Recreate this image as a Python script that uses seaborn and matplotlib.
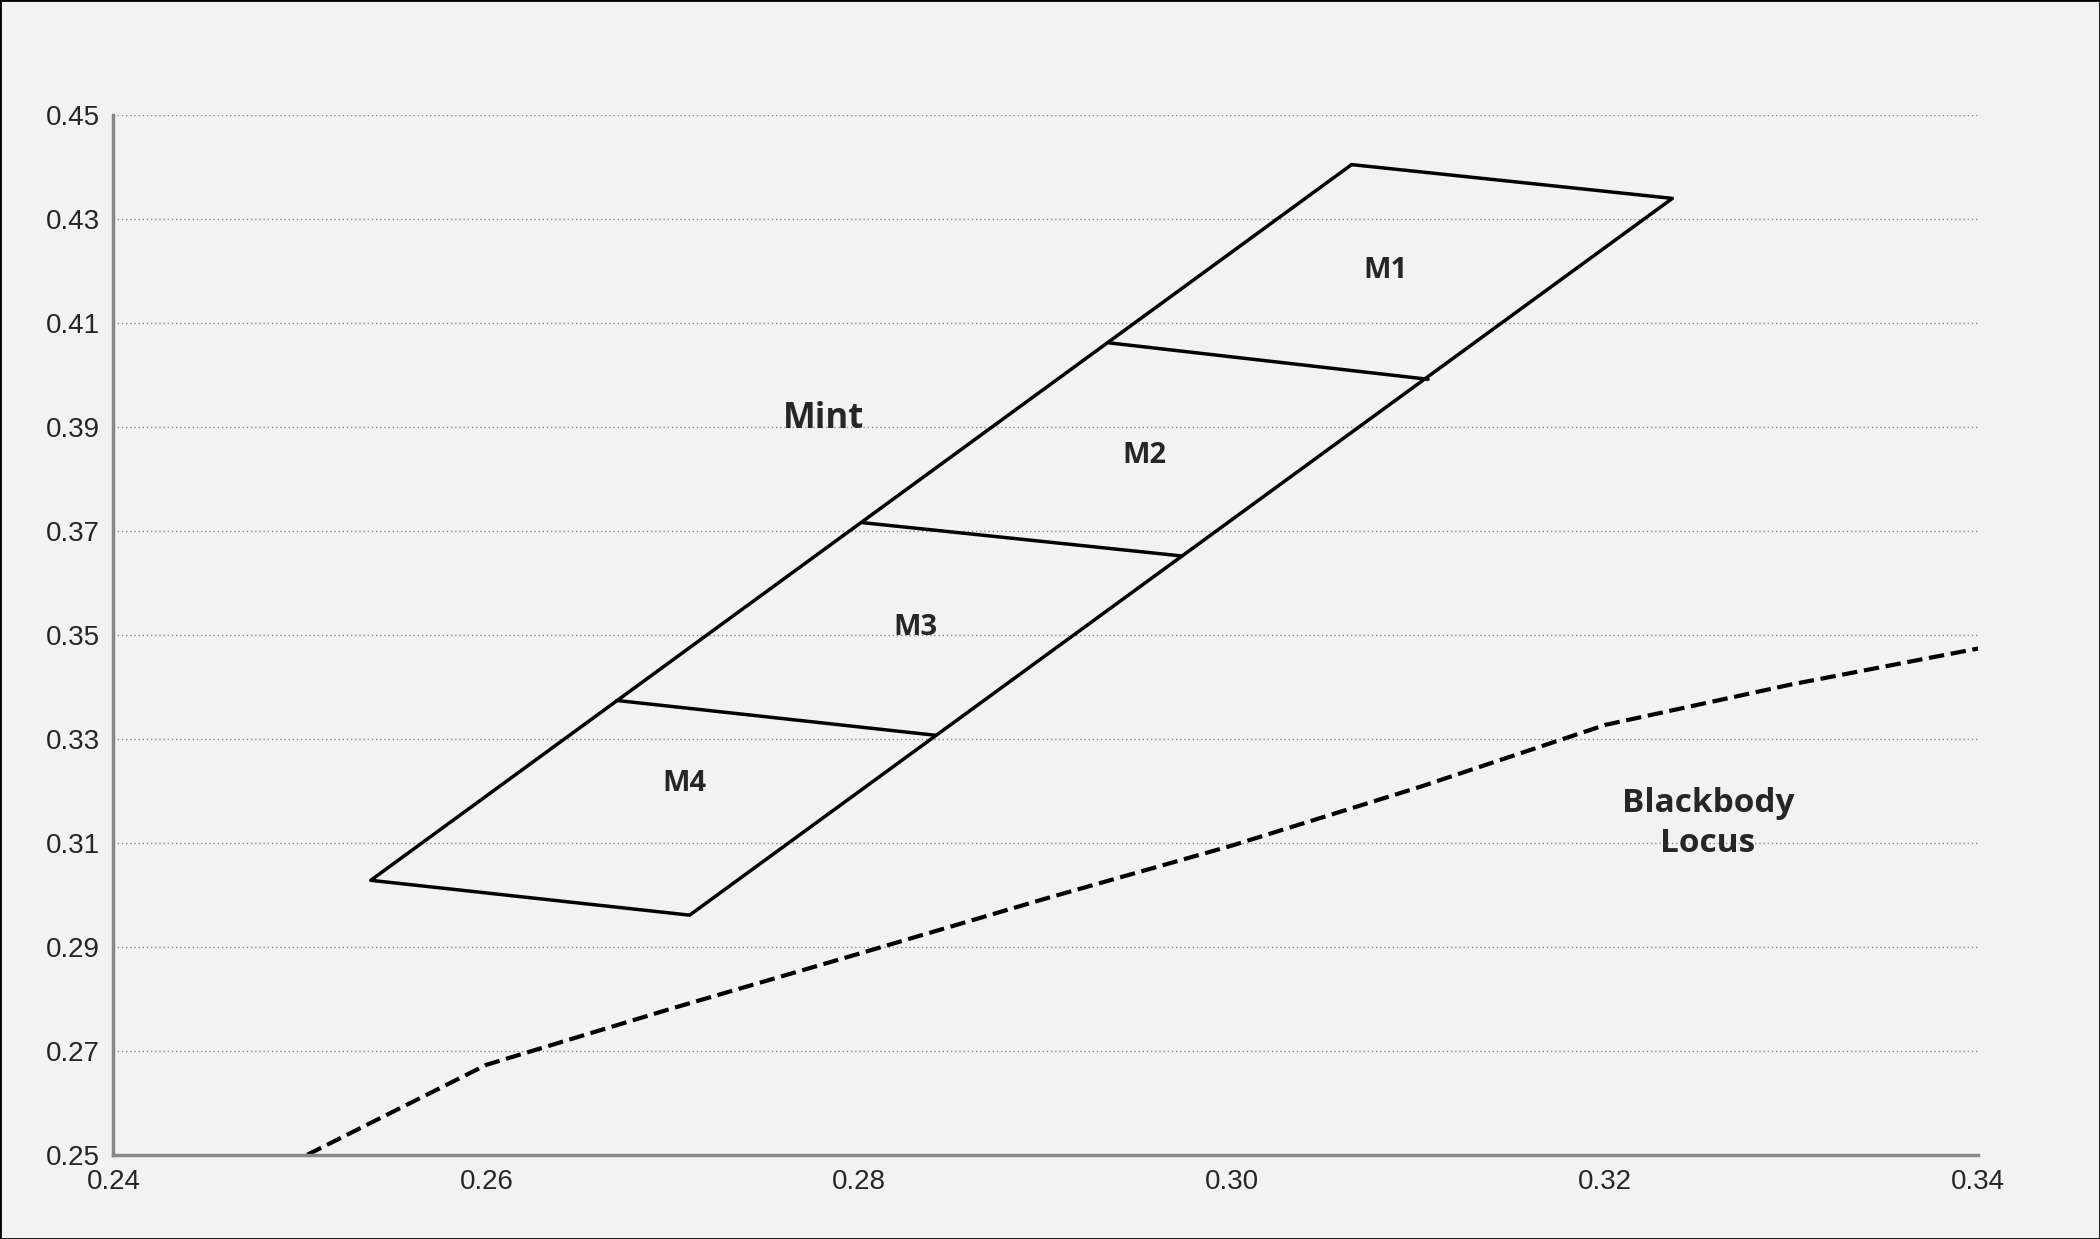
import matplotlib
matplotlib.use("Agg")
import matplotlib.pyplot as plt
import seaborn as sns
import pandas as pd

outline_x = [0.3064, 0.3236, 0.2709, 0.2538, 0.3064]
outline_y = [0.4405, 0.4340, 0.2961, 0.3028, 0.4405]
dividers = [
    ([0.2934, 0.3105], [0.4062, 0.3992]),
    ([0.2802, 0.2973], [0.3716, 0.3652]),
    ([0.2670, 0.2841], [0.3374, 0.3307]),
]
bb_x = [0.2504, 0.26, 0.27, 0.28, 0.29, 0.30, 0.31, 0.32, 0.33, 0.34]
bb_y = [0.25, 0.2673, 0.2782, 0.2887, 0.2993, 0.3095, 0.3207, 0.3327, 0.3405, 0.3474]
labels = ["M1", "M2", "M3", "M4"]
label_x = [0.3082, 0.2953, 0.2830, 0.2706]
label_y = [0.4201, 0.3845, 0.3515, 0.3214]
xticks = [0.24, 0.26, 0.28, 0.30, 0.32, 0.34]
yticks = [0.25, 0.27, 0.29, 0.31, 0.33, 0.35, 0.37, 0.39, 0.41, 0.43, 0.45]

sns.set_style("white")
plt.rcParams['font.family'] = ['Liberation Sans', 'DejaVu Sans']
fig = plt.figure(figsize=(21, 12.39), dpi=100, facecolor="#f2f2f2")
ax = fig.add_axes([0.054, 0.068, 0.888, 0.839])
ax.set_facecolor("#f2f2f2")
fig.patches.append(plt.Rectangle((0, 0), 1, 1, transform=fig.transFigure, fill=False,
                                 edgecolor="black", lw=2))

for y in yticks[1:]:
    ax.axhline(y, color="#888888", lw=1, ls=(0, (1, 2)), zorder=0)

sns.lineplot(data=pd.DataFrame({"x": outline_x, "y": outline_y}), x="x", y="y",
             sort=False, color="black", lw=2.5, ax=ax, estimator=None)
for dx, dy in dividers:
    sns.lineplot(x=dx, y=dy, sort=False, color="black", lw=2.5, ax=ax, estimator=None)
sns.lineplot(x=bb_x, y=bb_y, sort=False, color="black", lw=3, ls="--", ax=ax, estimator=None)

for t, x, y in zip(labels, label_x, label_y):
    ax.text(x, y, t, ha="center", va="center", fontsize=21, fontweight="bold", family=["Open Sans", "DejaVu Sans"])
ax.text(0.2781, 0.3915, "Mint", ha="center", va="center", fontsize=25, fontweight="bold", family=["Open Sans", "DejaVu Sans"])
ax.text(0.3255, 0.3137, "Blackbody\nLocus", ha="center", va="center", fontsize=24, fontweight="bold",
        family=["Open Sans", "DejaVu Sans"], linespacing=1.3)

ax.set_xlim(0.24, 0.34)
ax.set_ylim(0.25, 0.45)
ax.set_xticks(xticks)
ax.set_xticklabels([f"{v:.2f}" for v in xticks], fontsize=20)
ax.set_yticks(yticks)
ax.set_yticklabels([f"{v:.2f}" for v in yticks], fontsize=20)
ax.set_xlabel("")
ax.set_ylabel("")
for s in ["top", "right"]:
    ax.spines[s].set_visible(False)
for s in ["left", "bottom"]:
    ax.spines[s].set_color("#888888")
    ax.spines[s].set_linewidth(2.5)
ax.tick_params(axis="both", length=0, pad=10)
fig.savefig("out.png", dpi=100, facecolor=fig.get_facecolor())
